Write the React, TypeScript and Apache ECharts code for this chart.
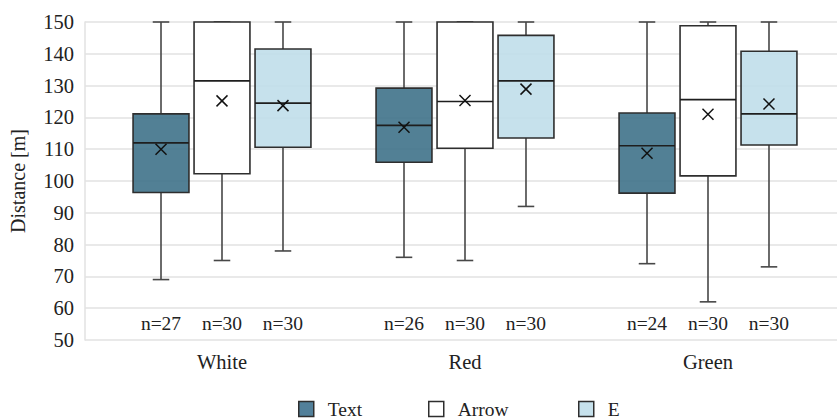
import React, { useEffect, useRef } from "react";
import * as echarts from "echarts";

const categories = ["White", "Red", "Green"];
const seriesNames = ["Text", "Arrow", "E"];

// [min, Q1, median, Q3, max]
const textStats = [
  [69, 96.4, 112, 121.1, 150],
  [76, 105.9, 117.5, 129.2, 150],
  [74, 96.2, 111.1, 121.4, 150],
];
const textMeans = [110, 116.9, 108.7];
const textN = [27, 26, 24];

const arrowStats = [
  [75, 102.3, 131.5, 150, 150],
  [75, 110.3, 125, 150, 150],
  [62, 101.6, 125.6, 148.8, 150],
];
const arrowMeans = [125.2, 125.3, 121];
const arrowN = [30, 30, 30];

const eStats = [
  [78, 110.6, 124.5, 141.5, 150],
  [92, 113.5, 131.5, 145.8, 150],
  [73, 111.3, 121.1, 140.8, 150],
];
const eMeans = [123.7, 128.9, 124.2];
const eN = [30, 30, 30];

const yTicks = { min: 50, max: 150, interval: 10 };
const nLabelValue = 55.2;

const FONT = '"Liberation Serif", "DejaVu Serif", serif';
const TEXT_COLOR = "#222";
const fills = ["rgba(63,114,138,0.9)", "#ffffff", "rgba(192,222,234,0.9)"];
const legendFills = ["#52809a", "#ffffff", "#c6e1ec"];

function buildData(stats: number[][], means: number[], ns: number[]) {
  return stats.map((s, i) => [i, s[0], s[1], s[2], s[3], s[4], means[i], ns[i]]);
}

function makeRender(slot: number, fill: string) {
  return (params: any, api: any) => {
    const cat = api.value(0);
    const bw = api.size([1, 0])[0];
    const cx = api.coord([cat, 100])[0] + slot * bw * 0.251;
    const y = (v: number) => api.coord([cat, v])[1];
    const hw = bw * 0.115;
    const cap = bw * 0.034;
    const yMin = y(api.value(1));
    const yQ1 = y(api.value(2));
    const yMed = y(api.value(3));
    const yQ3 = y(api.value(4));
    const yMax = y(api.value(5));
    const yMean = y(api.value(6));
    const n = api.value(7);
    const yN = y(nLabelValue);
    const wStyle = { stroke: "#474747", lineWidth: 1.6 };
    const m = 5.5;
    return {
      type: "group",
      children: [
        { type: "line", shape: { x1: cx, y1: yMax, x2: cx, y2: yQ3 }, style: wStyle },
        { type: "line", shape: { x1: cx - cap, y1: yMax, x2: cx + cap, y2: yMax }, style: wStyle },
        { type: "line", shape: { x1: cx, y1: yQ1, x2: cx, y2: yMin }, style: wStyle },
        { type: "line", shape: { x1: cx - cap, y1: yMin, x2: cx + cap, y2: yMin }, style: wStyle },
        {
          type: "rect",
          shape: { x: cx - hw, y: yQ3, width: hw * 2, height: yQ1 - yQ3 },
          style: { fill, stroke: "#2e2e2e", lineWidth: 1.6 },
        },
        {
          type: "line",
          shape: { x1: cx - hw, y1: yMed, x2: cx + hw, y2: yMed },
          style: { stroke: "#1e1e1e", lineWidth: 1.6 },
        },
        {
          type: "line",
          shape: { x1: cx - m, y1: yMean - m, x2: cx + m, y2: yMean + m },
          style: { stroke: "#111", lineWidth: 1.5 },
        },
        {
          type: "line",
          shape: { x1: cx - m, y1: yMean + m, x2: cx + m, y2: yMean - m },
          style: { stroke: "#111", lineWidth: 1.5 },
        },
        {
          type: "text",
          style: {
            text: "n=" + n,
            x: cx,
            y: yN,
            align: "center",
            verticalAlign: "middle",
            fontSize: 19.5,
            fontFamily: FONT,
            fill: TEXT_COLOR,
          },
        },
      ],
    };
  };
}

export default function App() {
  const ref = useRef<HTMLDivElement>(null);
  useEffect(() => {
    if (!ref.current) return;
    const chart = echarts.init(ref.current, undefined, { renderer: "svg" });
    const datasets = [
      buildData(textStats, textMeans, textN),
      buildData(arrowStats, arrowMeans, arrowN),
      buildData(eStats, eMeans, eN),
    ];
    const legendLefts = [298, 428, 578];
    chart.setOption({
      animation: false,
      backgroundColor: "#fff",
      grid: [
        { left: 100.5, right: 7.5, top: 22, bottom: 79 },
        { left: 84.5, right: 0, top: 22, bottom: 79 },
      ],
      legend: seriesNames.map((name, i) => ({
        data: [
          {
            name,
            itemStyle: { color: legendFills[i], borderColor: "#2e2e2e", borderWidth: 1.5 },
          },
        ],
        left: legendLefts[i],
        top: 399,
        padding: 0,
        icon: "rect",
        itemWidth: 15,
        itemHeight: 15,
        selectedMode: false,
        textStyle: {
          fontSize: 19.5,
          lineHeight: 15,
          fontFamily: FONT,
          color: TEXT_COLOR,
          padding: [0, 0, 0, 9],
        },
      })),
      xAxis: [
        {
          type: "category",
          gridIndex: 0,
          data: categories,
          boundaryGap: true,
          axisLine: { show: false },
          axisTick: { show: false },
          splitLine: { show: false },
          axisLabel: { fontSize: 20.5, fontFamily: FONT, color: TEXT_COLOR, margin: 11 },
        },
        { type: "value", gridIndex: 1, show: false, min: 0, max: 1 },
      ],
      yAxis: [
        {
          type: "value",
          gridIndex: 0,
          min: yTicks.min,
          max: yTicks.max,
          interval: yTicks.interval,
          show: false,
        },
        {
          type: "value",
          gridIndex: 1,
          min: yTicks.min,
          max: yTicks.max,
          interval: yTicks.interval,
          name: "Distance [m]",
          nameLocation: "middle",
          nameGap: 57,
          nameTextStyle: { fontSize: 20, fontFamily: FONT, color: TEXT_COLOR },
          axisLine: { show: true, lineStyle: { color: "#e2e2e2", width: 1.5 } },
          axisTick: { show: false },
          splitLine: { show: true, lineStyle: { color: "#e2e2e2", width: 1.5 } },
          axisLabel: { fontSize: 20.5, fontFamily: FONT, color: TEXT_COLOR, margin: 11 },
        },
      ],
      series: seriesNames.map((name, i) => ({
        type: "custom",
        name,
        xAxisIndex: 0,
        yAxisIndex: 0,
        itemStyle: { color: legendFills[i], borderColor: "#2e2e2e" },
        renderItem: makeRender(i - 1, fills[i]),
        encode: { x: 0, y: [1, 2, 3, 4, 5] },
        data: datasets[i],
        clip: false,
      })),
    });
    return () => chart.dispose();
  }, []);
  return <div ref={ref} style={{ width: 837, height: 419, position: "absolute", left: 0, top: 0 }} />;
}
